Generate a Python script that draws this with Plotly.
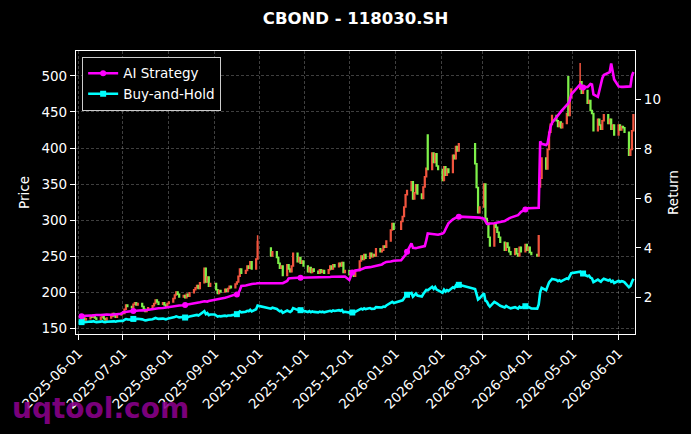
import pandas as pd
import plotly.graph_objects as go

# ---------------- data ----------------
holidays = ["2025-10-01", "2025-10-02", "2025-10-03", "2025-10-06", "2025-10-07", "2025-10-08",
            "2026-01-01", "2026-01-02", "2026-02-16", "2026-02-17", "2026-02-18", "2026-02-19",
            "2026-02-20", "2026-02-23", "2026-04-06", "2026-05-01", "2026-05-04", "2026-05-05"]

close_2025_06 = [162, 164, 161, 163, 166, 165, 168, 164, 162, 165, 167, 163, 161, 164, 166, 170, 167, 165, 168, 171]
close_2025_07 = [170, 176, 182, 180, 178, 183, 185, 182, 184, 180, 176, 173, 175, 178, 181, 184, 189, 186, 183, 185, 182, 180, 184]
close_2025_08 = [186, 191, 196, 200, 197, 193, 195, 192, 197, 194, 199, 203, 206, 209, 205, 213, 233, 214, 221, 208, 212]
close_2025_09 = [212, 203, 198, 202, 200, 204, 201, 205, 208, 206, 211, 214, 222, 232, 226, 230, 236, 233, 242, 232, 246, 270]
close_2025_10 = [250, 256, 248, 240, 233, 236, 223, 238, 232, 228, 236, 254, 242, 248, 240, 243, 236]
close_2025_11 = [228, 234, 227, 232, 229, 226, 231, 227, 230, 226, 231, 236, 232, 238, 235, 240, 236, 241, 227, 230]
close_2025_12 = [224, 228, 225, 222, 230, 243, 250, 245, 252, 247, 254, 249, 252, 250, 260, 256, 258, 264, 262, 271, 286, 295, 287]
close_2026_01 = [298, 305, 318, 335, 341, 353, 329, 338, 349, 336, 330, 346, 360, 372, 370, 393, 380, 392, 375, 370]
close_2026_02 = [355, 374, 362, 371, 366, 390, 385, 402, 396, 406, 378, 345, 310, 318]
close_2026_03 = [350, 302, 296, 276, 264, 294, 290, 283, 276, 269, 258, 268, 262, 256, 252, 260, 253, 250, 262, 256, 266, 258]
close_2026_04 = [262, 255, 252, 250, 278, 358, 386, 371, 398, 422, 433, 445, 438, 430, 436, 428, 434, 448, 445, 470, 482]
close_2026_05 = [492, 476, 480, 462, 466, 452, 448, 424, 440, 432, 426, 438, 446, 434, 440, 426, 432, 418]
close_2026_06 = [432, 425, 430, 428, 422, 390, 398, 424, 446]

first_open = 160
gap_open = {"2025-10-09": 261, "2026-01-23": 418, "2026-04-09": 346, "2026-04-28": 499}
wick_high = {"2025-09-30": 279, "2026-05-06": 518}

ai_2025_06 = [1.24, 1.25, 1.25, 1.26, 1.27, 1.27, 1.28, 1.28, 1.29, 1.29, 1.30, 1.30, 1.31, 1.31, 1.30, 1.31, 1.32, 1.33, 1.33, 1.34]
ai_2025_07 = [1.40, 1.41, 1.42, 1.43, 1.44, 1.45, 1.46, 1.46, 1.47, 1.48, 1.47, 1.48, 1.50, 1.51, 1.52, 1.53, 1.55, 1.56, 1.56, 1.57, 1.58, 1.59, 1.61]
ai_2025_08 = [1.62, 1.63, 1.64, 1.65, 1.66, 1.67, 1.68, 1.69, 1.69, 1.70, 1.72, 1.73, 1.75, 1.77, 1.78, 1.80, 1.84, 1.82, 1.83, 1.85, 1.86]
ai_2025_09 = [1.88, 1.89, 1.90, 1.92, 1.94, 1.98, 2.00, 2.02, 2.04, 2.06, 2.09, 2.12, 2.16, 2.30, 2.46, 2.48, 2.50, 2.51, 2.53, 2.54, 2.56, 2.57]
ai_2025_10 = [2.57, 2.57, 2.57, 2.57, 2.57, 2.57, 2.57, 2.66, 2.76, 2.77, 2.78, 2.78, 2.79, 2.79, 2.79, 2.80, 2.80]
ai_2025_11 = [2.80, 2.80, 2.80, 2.81, 2.81, 2.81, 2.81, 2.82, 2.82, 2.82, 2.82, 2.82, 2.83, 2.83, 2.83, 2.83, 2.83, 2.83, 2.84, 2.84]
ai_2025_12 = [2.70, 2.86, 3.00, 3.05, 3.08, 3.11, 3.14, 3.16, 3.18, 3.20, 3.22, 3.23, 3.25, 3.27, 3.29, 3.30, 3.33, 3.37, 3.41, 3.43, 3.45, 3.47, 3.48]
ai_2026_01 = [3.50, 3.57, 3.64, 3.72, 3.84, 4.18, 4.00, 3.98, 3.99, 4.00, 4.03, 4.05, 4.07, 4.30, 4.58, 4.56, 4.55, 4.53, 4.52, 4.53]
ai_2026_02 = [4.58, 4.62, 4.75, 4.90, 4.99, 5.15, 5.19, 5.22, 5.25, 5.26, 5.23, 5.23, 5.23, 5.22]
ai_2026_03 = [5.18, 5.10, 4.97, 4.96, 4.98, 4.99, 5.00, 5.03, 5.05, 5.05, 5.08, 5.12, 5.17, 5.19, 5.22, 5.28, 5.31, 5.32, 5.38, 5.45, 5.55, 5.60]
ai_2026_04 = [5.60, 5.60, 5.60, 5.60, 5.62, 8.30, 8.20, 8.15, 8.22, 8.55, 8.89, 9.05, 9.30, 9.35, 9.45, 9.50, 9.57, 9.75, 9.84, 9.95, 10.20]
ai_2026_05 = [10.60, 10.50, 10.48, 10.50, 10.55, 10.62, 10.60, 10.20, 10.10, 10.35, 10.62, 10.85, 10.98, 11.05, 11.10, 11.45, 11.10, 10.80]
ai_2026_06 = [10.52, 10.50, 10.50, 10.50, 10.50, 10.50, 10.52, 10.95, 11.10]

price_ticks = [150, 200, 250, 300, 350, 400, 450, 500]
return_ticks = [2, 4, 6, 8, 10]
marker_every = 25

# ---------------- assemble ----------------
dates = pd.bdate_range("2025-06-03", "2026-06-11")
dates = dates[~dates.isin(pd.to_datetime(holidays))]

close = (close_2025_06 + close_2025_07 + close_2025_08 + close_2025_09 + close_2025_10 +
         close_2025_11 + close_2025_12 + close_2026_01 + close_2026_02 + close_2026_03 +
         close_2026_04 + close_2026_05 + close_2026_06)
ai = (ai_2025_06 + ai_2025_07 + ai_2025_08 + ai_2025_09 + ai_2025_10 + ai_2025_11 +
      ai_2025_12 + ai_2026_01 + ai_2026_02 + ai_2026_03 + ai_2026_04 + ai_2026_05 + ai_2026_06)

n = min(len(dates), len(close), len(ai))
dates = dates[:n]
close = close[:n]
ai = ai[:n]
dstr = [d.strftime("%Y-%m-%d") for d in dates]

opens = []
for i, d in enumerate(dstr):
    if d in gap_open:
        opens.append(gap_open[d])
    elif i == 0:
        opens.append(first_open)
    else:
        opens.append(close[i - 1])
highs = [wick_high.get(d, max(o, c)) for d, o, c in zip(dstr, opens, close)]
lows = [min(o, c) for o, c in zip(opens, close)]
bh = [c / close[0] for c in close]

RED = "#f0543e"
GREEN = "#7ef04a"
MAG = "#ff00ff"
CYAN = "#00ffff"
FONT = "DejaVu Sans"
GRID = "rgba(150,150,150,0.42)"

fig = go.Figure()
fig.add_trace(go.Candlestick(
    x=dates, open=opens, high=highs, low=lows, close=close,
    increasing=dict(line=dict(color=RED, width=1.5), fillcolor=RED),
    decreasing=dict(line=dict(color=GREEN, width=1.5), fillcolor=GREEN),
    whiskerwidth=0, showlegend=False, hoverinfo="skip"))

for name, vals, color, sym in [("AI Strategy", ai, MAG, "circle"),
                               ("Buy-and-Hold", bh, CYAN, "square")]:
    fig.add_trace(go.Scatter(x=dates, y=vals, mode="lines", yaxis="y2",
                             line=dict(color=color, width=2.6), showlegend=False,
                             legendgroup=name))
    fig.add_trace(go.Scatter(x=dates[::marker_every], y=vals[::marker_every], mode="markers",
                             yaxis="y2", marker=dict(color=color, symbol=sym, size=6),
                             showlegend=False, legendgroup=name))
    fig.add_trace(go.Scatter(x=[None], y=[None], mode="lines+markers", yaxis="y2", name=name,
                             line=dict(color=color, width=2.6),
                             marker=dict(color=color, symbol=sym, size=6),
                             legendgroup=name))

axis_common = dict(ticks="outside", ticklen=5, tickwidth=1, tickcolor="white",
                   showline=True, linecolor="white", linewidth=1.2, zeroline=False,
                   tickfont=dict(family=FONT, size=13.5, color="white"))

fig.update_layout(
    width=691, height=434,
    margin=dict(l=76, r=56, t=51, b=100),
    paper_bgcolor="black", plot_bgcolor="black",
    font=dict(family=FONT, color="white", size=13.5),
    title=dict(text="<b>CBOND - 118030.SH</b>", x=0.5, xref="paper", xanchor="center",
               y=1 - 18 / 434, yref="container", yanchor="middle",
               font=dict(family=FONT, size=16.5, color="white")),
    xaxis=dict(type="date", range=["2025-05-30 06:00", "2026-06-12 02:00"],
               rangeslider=dict(visible=False), tickformat="%Y-%m-%d", dtick="M1",
               tick0="2025-06-01", tickangle=-45, mirror=True,
               showgrid=True, gridcolor=GRID, griddash="3px,2px", gridwidth=0.6,
               **axis_common),
    yaxis=dict(range=[141.7, 534.7], tickvals=price_ticks, mirror=True,
               showgrid=True, gridcolor=GRID, griddash="3px,2px", gridwidth=0.6,
               title=dict(text="Price", font=dict(family=FONT, size=13.5, color="white"), standoff=8),
               **axis_common),
    yaxis2=dict(range=[0.52, 11.95], tickvals=return_ticks, overlaying="y", side="right",
                showgrid=False,
                title=dict(text="Return", font=dict(family=FONT, size=13.5, color="white"), standoff=8),
                **axis_common),
    legend=dict(x=0.011, y=0.979, xanchor="left", yanchor="top", bgcolor="black",
                bordercolor="#cccccc", borderwidth=1,
                font=dict(family=FONT, size=13.5, color="white"), tracegroupgap=0),
    showlegend=True,
    annotations=[dict(text="<b>uqtool.com</b>", xref="paper", yref="paper",
                      x=(10 - 75.8) / 558.8, y=(334 - 408) / 283, xanchor="left", yanchor="middle",
                      showarrow=False, font=dict(family=FONT, size=28, color="rgba(140,0,140,0.9)"))],
)

fig.write_html("out.html")
